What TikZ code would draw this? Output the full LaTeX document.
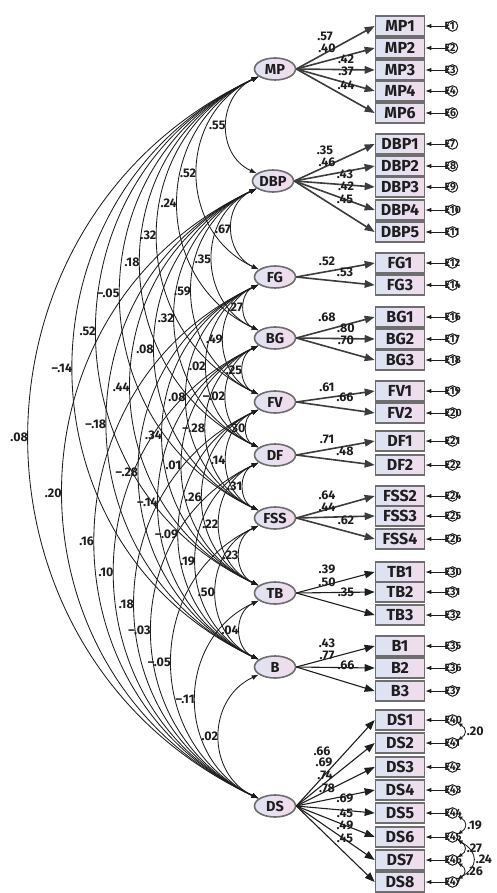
\documentclass[tikz,border=0pt]{standalone}
\usepackage{fontspec}
\setmainfont{Fira Sans}
\usetikzlibrary{arrows.meta,shapes.geometric}

\definecolor{latleft}{HTML}{DFE3F1}
\definecolor{latright}{HTML}{F2DCEC}
\definecolor{boxleft}{HTML}{DCE4F2}
\definecolor{boxright}{HTML}{F0DCEC}
\definecolor{rim}{HTML}{6E6E6E}
\definecolor{ink}{HTML}{1E1E1E}
\definecolor{pathgray}{HTML}{3C3C3C}

\tikzset{
  latent/.style={ellipse, minimum width=41pt, minimum height=22pt, inner sep=0pt,
    left color=latleft, right color=latright, draw=rim, line width=1.6pt,
    font=\fontsize{14.5}{14.5}\selectfont\bfseries, text=ink},
  obs/.style={rectangle, minimum width=49pt, minimum height=20pt, inner sep=0pt,
    left color=boxleft, right color=boxright, draw=rim, line width=1.6pt,
    font=\fontsize{16}{16}\selectfont\bfseries, text=ink},
  err/.style={circle, minimum size=10.5pt, inner sep=0pt, draw=ink, line width=1pt},
  errlbl/.style={anchor=west, inner sep=0pt, font=\fontsize{10.5}{10.5}\selectfont\bfseries, text=ink},
  erra/.style={-{Latex[length=6pt,width=4.5pt]}, line width=0.9pt, draw=ink},
  loadA/.style={-{Triangle[length=10pt,width=7.5pt]}, line width=1.6pt, draw=pathgray},
  loadB/.style={-{Triangle[length=10pt,width=7.5pt]}, line width=1.1pt, draw=ink},
  lbl/.style={inner sep=0pt, font=\fontsize{12.5}{12.5}\selectfont\bfseries, text=ink},
  cov/.style={{Latex[length=7pt,width=5pt]}-{Latex[length=7pt,width=5pt]},
    line width=0.85pt, draw=ink, out=205, in=155, looseness=1.2},
  covlbl/.style={midway, anchor=east, inner sep=0.8pt,
    font=\fontsize{12.5}{12.5}\selectfont\bfseries, text=ink},
  ecov/.style={{Latex[length=5pt,width=4pt]}-{Latex[length=5pt,width=4pt]},
    line width=0.85pt, draw=ink, out=-30, in=30, looseness=1.6},
  ecovlbl/.style={midway, anchor=west, inner sep=2pt,
    font=\fontsize{12.5}{12.5}\selectfont\bfseries, text=ink},
}

\newcommand{\covar}[3]{\draw[cov] (#1) to node[covlbl]{#3} (#2);}

\begin{document}
\begin{tikzpicture}[x=1pt,y=1pt]
\useasboundingbox (0,0) rectangle (496,-893);

% latent factors
\node[latent] (MP)  at (275,-69)  {MP};
\node[latent] (DBP) at (273,-181) {DBP};
\node[latent] (FG)  at (275,-277) {FG};
\node[latent] (BG)  at (275,-338) {BG};
\node[latent] (FV)  at (275,-402) {FV};
\node[latent] (DF)  at (275,-455) {DF};
\node[latent] (FSS) at (275,-518) {FSS};
\node[latent] (TB)  at (275,-593) {TB};
\node[latent] (B)   at (275,-667) {B};
\node[latent] (DS)  at (275,-806) {DS};

% indicators with their error terms
\foreach \n/\y/\e in {MP1/26/1, MP2/48/2, MP3/70/3, MP4/91/4, MP6/113/6,
    DBP1/144/7, DBP2/166/8, DBP3/187/9, DBP4/210/10, DBP5/232/11,
    FG1/263/12, FG3/285/14,
    BG1/317/16, BG2/339/17, BG3/360/18,
    FV1/391/19, FV2/413/20,
    DF1/441/21, DF2/465/22,
    FSS2/496/24, FSS3/516/25, FSS4/539/26,
    TB1/572/30, TB2/592/31, TB3/615/32,
    B1/646/35, B2/668/36, B3/691/37,
    DS1/720/40, DS2/743/41, DS3/767/42, DS4/790/43,
    DS5/813/44, DS6/837/45, DS7/860/46, DS8/882/47}{
  \node[obs] (\n) at (400,-\y) {\n};
  \node[err] (e\e) at (452.5,-\y) {};
  \draw[erra] (e\e.west) -- (\n.east);
  \node[errlbl] at (444.5,-\y) {E\e};
}

% factor loadings
\foreach \f/\ind in {MP/{MP1,MP2,MP3,MP4,MP6}, DBP/{DBP1,DBP2,DBP3,DBP4,DBP5},
    FG/{FG1,FG3}, BG/{BG1,BG2,BG3}, FV/{FV1,FV2}, DF/{DF1,DF2},
    FSS/{FSS2,FSS3,FSS4}}{
  \foreach \i in \ind { \draw[loadA] (\f.east) -- (\i.west); }
}
\foreach \f/\ind in {TB/{TB1,TB2,TB3}, B/{B1,B2,B3},
    DS/{DS1,DS2,DS3,DS4,DS5,DS6,DS7,DS8}}{
  \foreach \i in \ind { \draw[loadB] (\f.east) -- (\i.west); }
}

% loading estimates
\node[lbl] at (325,-36) {.57};  \node[lbl] at (327,-48) {.40};
\node[lbl] at (346,-59) {.42};  \node[lbl] at (346,-71) {.37};
\node[lbl] at (346,-85) {.44};
\node[lbl] at (325,-150) {.35}; \node[lbl] at (327,-162) {.46};
\node[lbl] at (345,-174) {.43}; \node[lbl] at (346,-186) {.42};
\node[lbl] at (345,-199) {.45};
\node[lbl] at (327,-261) {.52}; \node[lbl] at (345,-272) {.53};
\node[lbl] at (327,-317) {.68}; \node[lbl] at (346,-328) {.80};
\node[lbl] at (346,-340) {.70};
\node[lbl] at (327,-387) {.61}; \node[lbl] at (345,-397) {.66};
\node[lbl] at (327,-439) {.71}; \node[lbl] at (345,-451) {.48};
\node[lbl] at (327,-495) {.64}; \node[lbl] at (327,-507) {.44};
\node[lbl] at (346,-520) {.62};
\node[lbl] at (327,-569) {.39}; \node[lbl] at (327,-582) {.50};
\node[lbl] at (346,-592) {.35};
\node[lbl] at (327,-643) {.43}; \node[lbl] at (327,-655) {.77};
\node[lbl] at (346,-665) {.66};
\node[lbl] at (322,-751) {.66}; \node[lbl] at (324,-762) {.69};
\node[lbl] at (325,-775) {.74}; \node[lbl] at (327,-788) {.78};
\node[lbl] at (345,-798) {.69}; \node[lbl] at (345,-813) {.45};
\node[lbl] at (345,-825) {.49}; \node[lbl] at (345,-838) {.45};

% factor correlations
\covar{MP}{DBP}{.55}  \covar{MP}{FG}{.52}   \covar{MP}{BG}{.24}
\covar{MP}{FV}{.32}   \covar{MP}{DF}{.18}   \covar{MP}{FSS}{–.05}
\covar{MP}{TB}{.52}   \covar{MP}{B}{–.14}   \covar{MP}{DS}{.08}
\covar{DBP}{FG}{.67}  \covar{DBP}{BG}{.35}  \covar{DBP}{FV}{.59}
\covar{DBP}{DF}{.32}  \covar{DBP}{FSS}{.08} \covar{DBP}{TB}{.44}
\covar{DBP}{B}{–.18}  \covar{DBP}{DS}{.20}
\covar{FG}{BG}{.27}   \covar{FG}{FV}{.49}   \covar{FG}{DF}{.02}
\covar{FG}{FSS}{.08}  \covar{FG}{TB}{.34}   \covar{FG}{B}{–.28}
\covar{FG}{DS}{.16}
\covar{BG}{FV}{.25}   \covar{BG}{DF}{–.02}  \covar{BG}{FSS}{–.28}
\covar{BG}{TB}{.01}   \covar{BG}{B}{–.14}   \covar{BG}{DS}{.10}
\covar{FV}{DF}{.30}   \covar{FV}{FSS}{.14}  \covar{FV}{TB}{.26}
\covar{FV}{B}{–.09}   \covar{FV}{DS}{.18}
\covar{DF}{FSS}{.31}  \covar{DF}{TB}{.22}   \covar{DF}{B}{.19}
\covar{DF}{DS}{–.03}
\covar{FSS}{TB}{.23}  \covar{FSS}{B}{.50}   \covar{FSS}{DS}{–.05}
\covar{TB}{B}{.04}    \covar{TB}{DS}{–.11}
\covar{B}{DS}{.02}

% correlated residuals
\draw[ecov] (e40) to node[ecovlbl]{.20} (e41);
\draw[ecov] (e44) to node[ecovlbl]{.19} (e45);
\draw[ecov] (e45) to node[ecovlbl]{.27} (e46);
\draw[ecov] (e45) to node[ecovlbl]{.24} (e47);
\draw[ecov] (e46) to node[ecovlbl]{.26} (e47);
\end{tikzpicture}
\end{document}
